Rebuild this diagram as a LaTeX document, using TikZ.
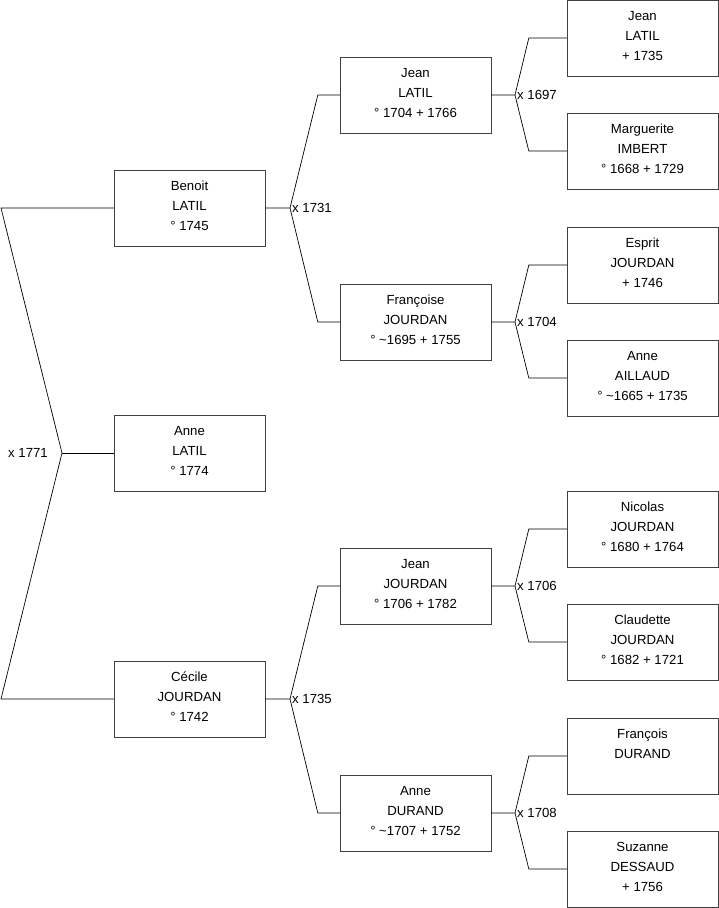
\documentclass[tikz,border=0pt]{standalone}
\usepackage{fontspec}
\setmainfont{Liberation Sans}
\usetikzlibrary{positioning}

\tikzset{
  person/.style={draw=black!75, minimum width=151pt, minimum height=76pt, align=center,
    font=\fontsize{13.2}{20}\selectfont, inner sep=0pt,
    execute at end node={\rule[-4pt]{0pt}{4pt}}},
  marriage/.style={anchor=west, inner sep=2pt, font=\fontsize{13.2}{15}\selectfont},
  link/.style={draw=black, line width=0.7pt}
}

\begin{document}
\begin{tikzpicture}[x=1pt, y=-1pt]
    \useasboundingbox (0,0) rectangle (719,908);

    % Nodes for the children
    \node[person] (benoit) at (189.5,208) {Benoit\\LATIL\\° 1745};
    \node[person] (anne) at (189.5,453) {Anne\\LATIL\\° 1774};
    \node[person] (cecile) at (189.5,699) {Cécile\\JOURDAN\\° 1742};

    % Nodes for the parents
    \node[person] (jeanL) at (415.5,95) {Jean\\LATIL\\° 1704 + 1766};
    \node[person] (francoise) at (415.5,322) {Françoise\\JOURDAN\\° \textasciitilde1695 + 1755};
    \node[person] (jeanJ) at (415.5,586) {Jean\\JOURDAN\\° 1706 + 1782};
    \node[person] (anneD) at (415.5,813) {Anne\\DURAND\\° \textasciitilde1707 + 1752};

    % Nodes for the grandparents
    \node[person] (jeanLL) at (642.5,38) {Jean\\LATIL\\+ 1735};
    \node[person] (marguerite) at (642.5,151) {Marguerite\\IMBERT\\° 1668 + 1729};
    \node[person] (esprit) at (642.5,265) {Esprit\\JOURDAN\\+ 1746};
    \node[person] (anneA) at (642.5,378) {Anne\\AILLAUD\\° \textasciitilde1665 + 1735};
    \node[person] (nicolas) at (642.5,529) {Nicolas\\JOURDAN\\° 1680 + 1764};
    \node[person] (claudette) at (642.5,642) {Claudette\\JOURDAN\\° 1682 + 1721};
    \node[person] (francois) at (642.5,756) {François\\DURAND\\~};
    \node[person] (suzanne) at (642.5,869) {Suzanne\\DESSAUD\\+ 1756};

    % Points where the lines meet
    \coordinate (m1771) at (62,453);
    \coordinate (m1731) at (290,208);
    \coordinate (m1735) at (290,699);
    \coordinate (m1697) at (515,95);
    \coordinate (m1704) at (515,322);
    \coordinate (m1706) at (515,586);
    \coordinate (m1708) at (515,813);
    \coordinate (ltop) at (1,208);
    \coordinate (lbot) at (1,699);

    % Lines for the first couple
    \draw[link] (benoit.west) -- (ltop) -- (m1771) -- (lbot) -- (cecile.west);
    \draw[link] (m1771) -- (anne.west);
    \node[anchor=east, inner sep=0pt, font=\fontsize{13.2}{15}\selectfont] (l1771) at ([xshift=-14pt]m1771) {x 1771};

    % Lines for the parents
    \draw[link] (benoit.east) -- (m1731) -- ([xshift=-22pt]jeanL.west) -- (jeanL.west);
    \draw[link] (m1731) -- ([xshift=-22pt]francoise.west) -- (francoise.west);
    \node[marriage] (l1731) at (m1731) {x 1731};
    \draw[link] (cecile.east) -- (m1735) -- ([xshift=-22pt]jeanJ.west) -- (jeanJ.west);
    \draw[link] (m1735) -- ([xshift=-22pt]anneD.west) -- (anneD.west);
    \node[marriage] (l1735) at (m1735) {x 1735};

    % Lines for the grandparents
    \draw[link] (jeanL.east) -- (m1697) -- ([xshift=-38pt]jeanLL.west) -- (jeanLL.west);
    \draw[link] (m1697) -- ([xshift=-38pt]marguerite.west) -- (marguerite.west);
    \node[marriage] (l1697) at (m1697) {x 1697};
    \draw[link] (francoise.east) -- (m1704) -- ([xshift=-38pt]esprit.west) -- (esprit.west);
    \draw[link] (m1704) -- ([xshift=-38pt]anneA.west) -- (anneA.west);
    \node[marriage] (l1704) at (m1704) {x 1704};
    \draw[link] (jeanJ.east) -- (m1706) -- ([xshift=-38pt]nicolas.west) -- (nicolas.west);
    \draw[link] (m1706) -- ([xshift=-38pt]claudette.west) -- (claudette.west);
    \node[marriage] (l1706) at (m1706) {x 1706};
    \draw[link] (anneD.east) -- (m1708) -- ([xshift=-38pt]francois.west) -- (francois.west);
    \draw[link] (m1708) -- ([xshift=-38pt]suzanne.west) -- (suzanne.west);
    \node[marriage] (l1708) at (m1708) {x 1708};
\end{tikzpicture}
\end{document}
